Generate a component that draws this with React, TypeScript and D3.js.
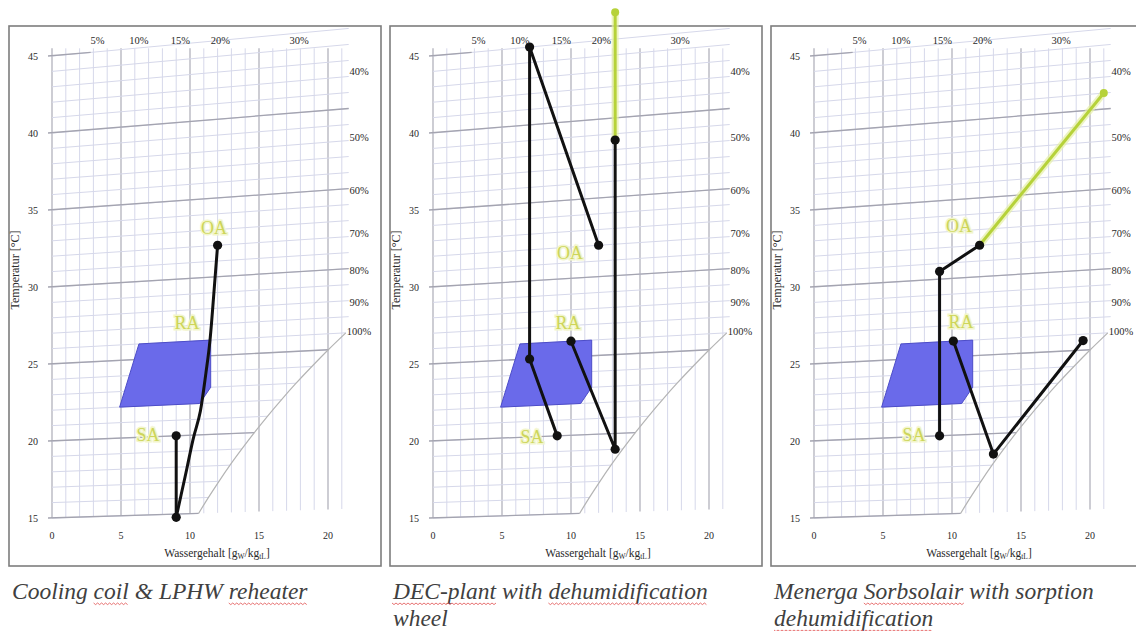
import React from 'react';
import * as d3 from 'd3';

// ---------- data ----------
const X_TICKS = [0, 5, 10, 15, 20];
const T_TICKS = [15, 20, 25, 30, 35, 40, 45];
const TOP_RH_LABELS = ['5%', '10%', '15%', '20%', '30%'];
const TOP_RH_X = [3.3, 6.3, 9.3, 12.2, 17.9];
const RIGHT_RH_LABELS = ['40%', '50%', '60%', '70%', '80%', '90%', '100%'];
const RIGHT_RH_T = [42.3, 38.2, 34.9, 32.2, 29.9, 27.9, 26.1];

// saturation line (100 % r.h.), temperature °C -> water content g/kg
const SAT_T = [15, 16, 17, 18, 19, 20, 21, 22, 23, 24, 25, 26];
const SAT_X = [10.62, 11.34, 12.1, 12.9, 13.76, 14.66, 15.61, 16.62, 17.69, 18.83, 20.02, 21.29];

// comfort zone polygon
const ZONE_X = [4.9, 6.3, 11.5, 11.5, 10.7];
const ZONE_T = [22, 26, 26, 23, 22];

// panel 1: cooling coil & reheater
const P1_COOL_X = [12.0, 11.75, 11.45, 11.15, 10.75, 10.3, 9.8, 9.35, 9.0];
const P1_COOL_T = [32.0, 29.2, 26.0, 23.9, 21.5, 20.0, 18.0, 16.2, 14.8];
const P1_REHEAT_X = [9.0, 9.0];
const P1_REHEAT_T = [14.8, 20.0];

// panel 2: DEC plant
const P2_SUPPLY_X = [12, 7, 7, 9];
const P2_SUPPLY_T = [32, 45, 25, 20];
const P2_EXHAUST_X = [10, 13.2, 13.2];
const P2_EXHAUST_T = [26, 19, 38.6];
const P2_REGEN_X = [13.2, 13.2];
const P2_REGEN_T = [38.6, 46.7];

// panel 3: Menerga Sorbsolair
const P3_SUPPLY_X = [12, 9.1, 9.1];
const P3_SUPPLY_T = [32, 30.5, 20];
const P3_EXHAUST_X = [10.1, 13, 19.5];
const P3_EXHAUST_T = [26, 18.7, 25.6];
const P3_REGEN_X = [12, 21];
const P3_REGEN_T = [32, 41];

// state labels
const STATE_LABELS = ['OA', 'RA', 'SA'];
const P1_LABEL_X = [11.74, 9.78, 6.96];
const P1_LABEL_T = [33.1, 27.2, 20.1];
const P2_LABEL_X = [9.93, 9.78, 7.17];
const P2_LABEL_T = [31.6, 27.2, 20.0];
const P3_LABEL_X = [10.5, 10.65, 7.25];
const P3_LABEL_T = [33.3, 27.2, 20.1];

const CAPTIONS = [
  ['Cooling coil & LPHW reheater'],
  ['DEC-plant with dehumidification', 'wheel'],
  ['Menerga Sorbsolair with sorption', 'dehumidification'],
];
const SPELL_MARKED = ['coil', 'reheater', 'DEC-plant', 'dehumidification', 'Sorbsolair'];

// ---------- helpers ----------
const zip = (xs: number[], ts: number[]) => xs.map((x, i) => [x, ts[i]] as [number, number]);

const PANELS = [
  {
    lines: [
      { pts: zip(P1_COOL_X, P1_COOL_T), green: false, smooth: true },
      { pts: zip(P1_REHEAT_X, P1_REHEAT_T), green: false, smooth: false },
    ],
    dots: [zip(P1_COOL_X, P1_COOL_T)[0], zip(P1_REHEAT_X, P1_REHEAT_T)[0], zip(P1_REHEAT_X, P1_REHEAT_T)[1]],
    greenDots: [] as [number, number][],
    labels: zip(P1_LABEL_X, P1_LABEL_T),
  },
  {
    lines: [
      { pts: zip(P2_SUPPLY_X, P2_SUPPLY_T), green: false, smooth: false },
      { pts: zip(P2_EXHAUST_X, P2_EXHAUST_T), green: false, smooth: false },
      { pts: zip(P2_REGEN_X, P2_REGEN_T), green: true, smooth: false },
    ],
    dots: [...zip(P2_SUPPLY_X, P2_SUPPLY_T), ...zip(P2_EXHAUST_X, P2_EXHAUST_T)],
    greenDots: [zip(P2_REGEN_X, P2_REGEN_T)[1]],
    labels: zip(P2_LABEL_X, P2_LABEL_T),
  },
  {
    lines: [
      { pts: zip(P3_REGEN_X, P3_REGEN_T), green: true, smooth: false },
      { pts: zip(P3_SUPPLY_X, P3_SUPPLY_T), green: false, smooth: false },
      { pts: zip(P3_EXHAUST_X, P3_EXHAUST_T), green: false, smooth: false },
    ],
    dots: [...zip(P3_SUPPLY_X, P3_SUPPLY_T), ...zip(P3_EXHAUST_X, P3_EXHAUST_T)],
    greenDots: [zip(P3_REGEN_X, P3_REGEN_T)[1]],
    labels: zip(P3_LABEL_X, P3_LABEL_T),
  },
];

const W = 1136;
const H = 631;
const K = 0.00185; // Mollier skew of isotherms
const XMAX = 21.5;
const PANEL_STEP = 381;
const yScale = d3.scaleLinear().domain([15, 45]).range([518, 56]);
const satScale = d3.scaleLinear().domain(SAT_T).range(SAT_X);
const satEnd = (t: number) => (t > 26 ? XMAX : Math.min(XMAX, satScale(t)));

const SERIF = '"Liberation Serif", "DejaVu Serif", serif';
const MINOR = '#d6d8ea';
const MAJOR = '#a4a4b0';
const LABEL_FILL = '#cdd55a';
const GREEN = '#b6d23a';
const AXIS_TXT = '#2a2a2a';

function Panel({ idx }: { idx: number }) {
  const x0 = 52 + idx * PANEL_STEP;
  const xScale = d3.scaleLinear().domain([0, 20]).range([x0, x0 + 276]);
  const py = (x: number, t: number) => yScale(t * (1 + K * x));
  const pt = ([x, t]: [number, number]) => [xScale(x), py(x, t)] as [number, number];
  const panel = PANELS[idx];

  const minorX = d3.range(0, 22);
  const minorT = d3.range(15, 46);
  const yTop = yScale(45.5);

  const lineGen = d3.line<[number, number]>().x((d) => pt(d)[0]).y((d) => pt(d)[1]);
  const smoothGen = d3
    .line<[number, number]>()
    .x((d) => pt(d)[0])
    .y((d) => pt(d)[1])
    .curve(d3.curveNatural);
  const satPath = smoothGen(zip(SAT_X, SAT_T));
  const zonePath = lineGen(zip(ZONE_X, ZONE_T)) + 'Z';

  return (
    <g>
      {/* frame */}
      <rect x={x0 - 43} y={26} width={372} height={540} fill="none" stroke="#7d7d7d" strokeWidth={1.6} />

      {/* minor grid */}
      {minorX.map((x) => (
        <line
          key={'vx' + x}
          x1={xScale(x)}
          x2={xScale(x)}
          y1={yTop}
          y2={py(x, 15)}
          stroke={x % 5 === 0 ? MAJOR : MINOR}
          strokeWidth={x % 5 === 0 ? 1.1 : 1}
        />
      ))}
      {minorT.map((t) => {
        const xe = satEnd(t);
        return (
          <line
            key={'ht' + t}
            x1={xScale(0)}
            x2={xScale(xe)}
            y1={py(0, t)}
            y2={py(xe, t)}
            stroke={MINOR}
            strokeWidth={1}
          />
        );
      })}
      {/* major isotherms */}
      {T_TICKS.map((t) => {
        const xe = t === 45 ? 2.8 : satEnd(t);
        return (
          <line
            key={'mt' + t}
            x1={xScale(0) - 4}
            x2={xScale(xe)}
            y1={py(0, t)}
            y2={py(xe, t)}
            stroke={MAJOR}
            strokeWidth={1.3}
          />
        );
      })}
      {/* saturation line */}
      <path d={satPath || ''} fill="none" stroke="#b4b4b4" strokeWidth={1.2} />

      {/* comfort zone */}
      <path d={zonePath} fill="#6a6aea" stroke="#4c4cc8" strokeWidth={1} />

      {/* process lines */}
      {panel.lines.map((ln, i) => {
        const d = (ln.smooth ? smoothGen : lineGen)(ln.pts) || '';
        return ln.green ? (
          <g key={'ln' + i}>
            <path d={d} fill="none" stroke="#e6f0a6" strokeWidth={7} strokeOpacity={0.7} />
            <path d={d} fill="none" stroke={GREEN} strokeWidth={3} />
          </g>
        ) : (
          <path key={'ln' + i} d={d} fill="none" stroke="#111" strokeWidth={3} strokeLinejoin="round" />
        );
      })}
      {panel.dots.map((d, i) => {
        const [cx, cy] = pt(d);
        return <circle key={'dot' + i} cx={cx} cy={cy} r={4.6} fill="#111" />;
      })}
      {panel.greenDots.map((d, i) => {
        const [cx, cy] = pt(d);
        return <circle key={'gdot' + i} cx={cx} cy={cy} r={4} fill={GREEN} />;
      })}

      {/* state labels */}
      {panel.labels.map((d, i) => {
        const [cx, cy] = pt(d);
        return (
          <text
            key={'lab' + i}
            x={cx}
            y={cy}
            textAnchor="middle"
            dominantBaseline="central"
            fontFamily={SERIF}
            fontSize={18}
            fill={LABEL_FILL}
            stroke="#f2f5cc"
            strokeWidth={3}
            paintOrder="stroke"
          >
            {STATE_LABELS[i]}
          </text>
        );
      })}

      {/* y tick labels */}
      {T_TICKS.map((t) => (
        <text key={'yt' + t} x={x0 - 14} y={py(0, t) + 3.5} textAnchor="end" fontFamily={SERIF} fontSize={10} fill={AXIS_TXT}>
          {t}
        </text>
      ))}
      {/* x tick labels */}
      {X_TICKS.map((x) => (
        <text key={'xt' + x} x={xScale(x)} y={539} textAnchor="middle" fontFamily={SERIF} fontSize={10} fill={AXIS_TXT}>
          {x}
        </text>
      ))}
      {/* top r.h. labels */}
      {TOP_RH_LABELS.map((l, i) => (
        <text key={'top' + l} x={xScale(TOP_RH_X[i])} y={44} textAnchor="middle" fontFamily={SERIF} fontSize={10.5} fill={AXIS_TXT}>
          {l}
        </text>
      ))}
      {/* right r.h. labels */}
      {RIGHT_RH_LABELS.map((l, i) => (
        <text
          key={'rt' + l}
          x={x0 + 307}
          y={py(XMAX, RIGHT_RH_T[i]) + 3.5}
          textAnchor="middle"
          fontFamily={SERIF}
          fontSize={10.5}
          fill={AXIS_TXT}
        >
          {l}
        </text>
      ))}
      {/* axis titles */}
      <text x={x0 + 165} y={557} textAnchor="middle" fontFamily={SERIF} fontSize={11.5} fill={AXIS_TXT}>
        Wassergehalt [g
        <tspan fontSize={7.5} dy={2}>W</tspan>
        <tspan dy={-2}>/kg</tspan>
        <tspan fontSize={7.5} dy={2}>tL</tspan>
        <tspan dy={-2}>]</tspan>
      </text>
      <text
        transform={`translate(${x0 - 33},270) rotate(-90)`}
        textAnchor="middle"
        fontFamily={SERIF}
        fontSize={12}
        fill={AXIS_TXT}
      >
        Temperatur [°C]
      </text>

      {/* caption */}
      {CAPTIONS[idx].map((line, li) => (
        <text
          key={'cap' + li}
          x={x0 - 40}
          y={599 + li * 27}
          fontFamily={SERIF}
          fontStyle="italic"
          fontSize={23.5}
          fill="#404040"
        >
          {line.split(' ').map((w, wi) => (
            <React.Fragment key={wi}>
              {wi > 0 ? ' ' : ''}
              <tspan data-spell={SPELL_MARKED.includes(w) ? '1' : undefined}>{w}</tspan>
            </React.Fragment>
          ))}
        </text>
      ))}
    </g>
  );
}

type Mark = { x: number; y: number; w: number };

export default function App() {
  const ref = React.useRef<SVGSVGElement>(null);
  const [marks, setMarks] = React.useState<Mark[]>([]);

  React.useLayoutEffect(() => {
    const svg = ref.current;
    if (!svg) return;
    const out: Mark[] = [];
    svg.querySelectorAll('tspan[data-spell]').forEach((el) => {
      const b = (el as SVGGraphicsElement).getBBox();
      out.push({ x: b.x, y: b.y + b.height - 1, w: b.width });
    });
    setMarks(out);
  }, []);

  const wavy = (m: Mark) => {
    const pts = d3.range(0, Math.floor(m.w / 2) + 1).map((i) => [m.x + i * 2, m.y + (i % 2 === 0 ? 0 : 1.6)] as [number, number]);
    return d3.line()(pts) || '';
  };

  return (
    <svg
      ref={ref}
      width={W}
      height={H}
      viewBox={`0 0 ${W} ${H}`}
      style={{ position: 'absolute', left: 0, top: 0, background: '#fff' }}
    >
      <rect x={0} y={0} width={W} height={H} fill="#fff" />
      {PANELS.map((_, i) => (
        <Panel key={i} idx={i} />
      ))}
      {marks.map((m, i) => (
        <path key={'sp' + i} d={wavy(m)} fill="none" stroke="#e35a5a" strokeWidth={1} strokeOpacity={0.85} />
      ))}
    </svg>
  );
}
